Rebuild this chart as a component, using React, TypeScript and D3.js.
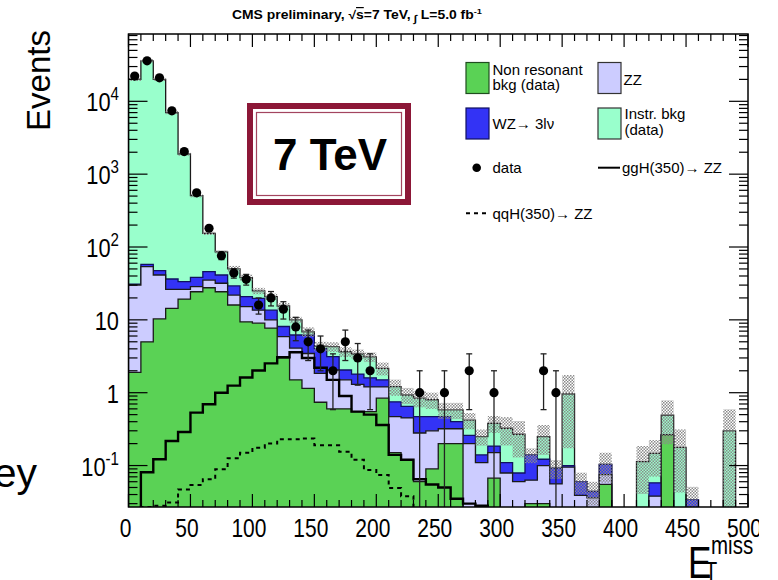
import React from "react";
import * as d3 from "d3";

// ---------- data (per 10 GeV bin, 0..500) ----------
const binLows = d3.range(0, 500, 10);

const nonResonant = [1.9, 5.0, 10.3, 14.4, 19.3, 24.3, 27.6, 24.3, 16.0, 9.4, 9.0, 7.7, 3.0, 1.5, 1.15, 0.74, 0.6, 0.6, 0.55, 0.55, 0.84, 0.15, 0.12, 0.06, 0.09, 0.2, 0.2, 0, 0, 0.067, 0, 0, 0.03, 0.03, 0, 0, 0, 0, 0.055, 0, 0, 0, 0, 0.263, 0, 0, 0, 0, 0, 0];
const zz = [28.2, 48.7, 31.0, 11.8, 6.9, 4.2, 7.6, 7.5, 5.9, 5.8, 4.6, 2.3, 2.9, 2.6, 2.3, 1.1, 1.45, 0.9, 0.75, 0.65, 0.36, 0.32, 0.33, 0.22, 0.21, 0.12, 0.12, 0.2, 0.11, 0.083, 0.079, 0.06, 0.033, 0.07, 0.056, 0.095, 0.039, 0.036, 0.02, 0, 0, 0, 0.038, 0, 0, 0, 0, 0, 0, 0];
const wz = [0.9, 4.2, 6.0, 10.2, 7.2, 9.9, 10.6, 9.5, 7.3, 5.6, 6.1, 3.6, 2.2, 2.1, 2.7, 2.2, 1.07, 0.55, 0.5, 0.4, 0.3, 0.28, 0.2, 0.19, 0.17, 0.15, 0.08, 0.06, 0.03, 0.035, 0.031, 0.019, 0.077, 0.022, 0.036, 0.005, 0.021, 0.008, 0.029, 0, 0, 0, 0.02, 0, 0, 0.034, 0, 0, 0, 0];
const instrBkg = [19970, 35942, 19953, 6964, 1857, 468, 108, 44.7, 20.8, 17.2, 5.3, 7.2, 7.4, 3.8, 0.7, 0.3, 1.16, 1.6, 1.6, 1.5, 0.66, 0.46, 0.28, 0.37, 0.33, 0.11, 0.18, 0.16, 0.11, 0.195, 0.215, 0.19, 0, 0.128, 0, 0.86, 0, 0, 0, 0, 0, 0.113, 0.089, 0.227, 0.178, 0, 0, 0, 0.3, 0];
const bkgRelUnc = [0.05, 0.05, 0.05, 0.05, 0.05, 0.05, 0.05, 0.05, 0.1, 0.1, 0.1, 0.1, 0.1, 0.1, 0.15, 0.15, 0.15, 0.15, 0.15, 0.15, 0.2, 0.25, 0.25, 0.25, 0.25, 0.25, 0.25, 0.25, 0.25, 0.26, 0.42, 0.52, 0.23, 0.44, 0.29, 0.82, 0.33, 0.36, 0.44, 0, 0, 0.64, 0.52, 0.6, 0.76, 0.5, 0, 0, 0.97, 0];
const dataCounts = [22200, 36000, 21000, 7400, 2040, 555, 181, 76, 44, 36, 16, 20, 14, 8, 5, 4, 2, 5, 3, 2, 0, 0, 0, 1, 0, 1, 0, 2, 0, 1, 0, 0, 0, 2, 1, 0, 0, 0, 0, 0, 0, 0, 0, 0, 0, 0, 0, 0, 0, 0];
const ggH350 = [0, 0.081, 0.122, 0.217, 0.289, 0.532, 0.693, 1.0, 1.25, 1.62, 2.02, 2.53, 3.06, 3.6, 3.0, 2.2, 1.5, 0.9, 0.55, 0.5, 0.36, 0.14, 0.12, 0.065, 0.055, 0.05, 0.035, 0.03, 0.028, 0, 0, 0, 0, 0, 0, 0, 0, 0, 0, 0, 0, 0, 0, 0, 0, 0, 0, 0, 0, 0];
const qqH350 = [0, 0.027, 0.028, 0.031, 0.047, 0.054, 0.065, 0.089, 0.126, 0.15, 0.176, 0.2, 0.229, 0.23, 0.236, 0.19, 0.19, 0.155, 0.12, 0.087, 0.074, 0.049, 0.038, 0, 0, 0, 0, 0, 0, 0, 0, 0, 0, 0, 0, 0, 0, 0, 0, 0, 0, 0, 0, 0, 0, 0, 0, 0, 0, 0];

const xTickLabels = ["0", "50", "100", "150", "200", "250", "300", "350", "400", "450", "500"];
const yDecades = [-1, 0, 1, 2, 3, 4];

// ---------- layout ----------
const W = 778, H = 580;
const L = 128.5, R = 748, T = 34, B = 507;
const yMin = Math.pow(10, -1.569), yMax = Math.pow(10, 4.924);

const COL_GREEN = "#5ad255";
const COL_ZZ = "#ccccff";
const COL_WZ = "#3333f5";
const COL_INSTR = "#99ffcc";
const FONT = "'Liberation Sans', Arial, Helvetica, sans-serif";

export default function App() {
  const x = d3.scaleLinear().domain([0, 500]).range([L, R]);
  const y = d3.scaleLog().domain([yMin, yMax]).range([B, T]);
  const yc = (v: number) => (v <= yMin ? B + 5 : y(v));

  const cumNonRes = nonResonant.slice();
  const cumZZ = zz.map((v, i) => cumNonRes[i] + v);
  const cumWZ = wz.map((v, i) => cumZZ[i] + v);
  const cumTot = instrBkg.map((v, i) => cumWZ[i] + v);

  const stepArea = (vals: number[]) => {
    let d = `M${x(0)},${B + 5}`;
    vals.forEach((v, i) => {
      const yy = yc(v);
      d += `L${x(binLows[i])},${yy}L${x(binLows[i] + 10)},${yy}`;
    });
    d += `L${x(500)},${B + 5}Z`;
    return d;
  };
  const stepLine = (vals: number[]) => {
    let d = "";
    vals.forEach((v, i) => {
      const yy = yc(v);
      d += `${i === 0 ? "M" : "L"}${x(binLows[i])},${yy}L${x(binLows[i] + 10)},${yy}`;
    });
    return d;
  };

  const minorY: number[] = [];
  for (let dcd = -2; dcd <= 4; dcd++) for (let m = 2; m <= 9; m++) {
    const v = m * Math.pow(10, dcd);
    if (v > yMin && v < yMax) minorY.push(v);
  }
  const xMinor = d3.range(0, 501, 10);

  const stacks = [
    { vals: cumTot, fill: COL_INSTR, stroke: "#1a1a1a" },
    { vals: cumWZ, fill: COL_WZ, stroke: "#101060" },
    { vals: cumZZ, fill: COL_ZZ, stroke: "#1a1a1a" },
    { vals: cumNonRes, fill: COL_GREEN, stroke: "#1a1a1a" },
  ];

  return (
    <svg width={W} height={H} style={{ display: "block", position: "absolute", left: 0, top: 0, background: "#fff" }} fontFamily={FONT}>
      <defs>
        <clipPath id="plotClip"><rect x={L} y={T} width={R - L} height={B - T} /></clipPath>
        <clipPath id="pageClip"><rect x={0} y={0} width={759} height={H} /></clipPath>
        <pattern id="band" width="3" height="3" patternUnits="userSpaceOnUse">
          <rect x="0" y="0" width="1.5" height="1.5" fill="#8a8a8a" />
          <rect x="1.5" y="1.5" width="1.5" height="1.5" fill="#8a8a8a" />
        </pattern>
      </defs>
      <rect x={0} y={0} width={W} height={H} fill="#fff" />

      {/* stray slide text */}
      <text x={37} y={487} fontSize={41} textAnchor="end" fill="#000">ey</text>

      {/* title */}
      <text x={232} y={19} fontSize={12} fontWeight="bold" textLength={250} lengthAdjust="spacingAndGlyphs">
        CMS preliminary, √<tspan textDecoration="overline">s</tspan>=7 TeV,<tspan fontSize={10} dy={3}> ∫</tspan><tspan dy={-3}> L=5.0 fb</tspan><tspan fontSize={8} dy={-5}>-1</tspan>
      </text>

      <g clipPath="url(#plotClip)">
        {stacks.map((s, i) => (
          <path key={i} d={stepArea(s.vals)} fill={s.fill} stroke={s.stroke} strokeWidth={1.3} strokeLinejoin="miter" />
        ))}
        {/* uncertainty band */}
        {cumTot.map((t, i) => {
          const u = bkgRelUnc[i];
          if (!(u > 0) || t <= 0) return null;
          const hi = t * (1 + u), lo = t * (1 - u);
          const y1 = yc(hi), y2 = yc(lo);
          return <rect key={i} x={x(binLows[i])} y={y1} width={x(binLows[i] + 10) - x(binLows[i])} height={Math.max(0, y2 - y1)} fill="url(#band)" />;
        })}
        {/* signals */}
        <path d={stepLine(ggH350)} fill="none" stroke="#000" strokeWidth={2.4} />
        <path d={stepLine(qqH350)} fill="none" stroke="#000" strokeWidth={2} strokeDasharray="4,4" />
        {/* data */}
        {dataCounts.map((n, i) => {
          if (n <= 0) return null;
          const cx = x(binLows[i] + 5);
          const e = Math.sqrt(n);
          const yHi = yc(n + e), yLo = yc(n - e);
          return (
            <g key={i}>
              <line x1={cx} x2={cx} y1={yHi} y2={yLo} stroke="#222" strokeWidth={1.3} />
              <line x1={cx - 3} x2={cx + 3} y1={yHi} y2={yHi} stroke="#222" strokeWidth={1.3} />
              {n - e > yMin && <line x1={cx - 3} x2={cx + 3} y1={yLo} y2={yLo} stroke="#222" strokeWidth={1.3} />}
              <circle cx={cx} cy={y(n)} r={4.6} fill="#000" />
            </g>
          );
        })}
      </g>

      {/* 7 TeV stamp */}
      <g>
        <rect x={250} y={106} width={158} height={96} fill="none" stroke="#8c1737" strokeWidth={6} />
        <rect x={256.5} y={112.5} width={145} height={83} fill="none" stroke="#8c1737" strokeWidth={1.2} opacity={0.8} />
        <text x={330} y={170} fontSize={44} fontWeight="bold" textAnchor="middle" textLength={114} lengthAdjust="spacingAndGlyphs">7 TeV</text>
      </g>

      {/* frame and ticks */}
      <rect x={L} y={T} width={R - L} height={B - T} fill="none" stroke="#000" strokeWidth={1.5} />
      {xMinor.map((v) => {
        const major = v % 50 === 0;
        const len = major ? 13 : 7;
        return (
          <g key={v}>
            <line x1={x(v)} x2={x(v)} y1={B} y2={B - len} stroke="#000" strokeWidth={1.2} />
            <line x1={x(v)} x2={x(v)} y1={T} y2={T + len} stroke="#000" strokeWidth={1.2} />
          </g>
        );
      })}
      {yDecades.map((dcd) => {
        const yy = y(Math.pow(10, dcd));
        return (
          <g key={dcd}>
            <line x1={L} x2={L + 19} y1={yy} y2={yy} stroke="#000" strokeWidth={1.2} />
            <line x1={R} x2={R - 19} y1={yy} y2={yy} stroke="#000" strokeWidth={1.2} />
          </g>
        );
      })}
      {minorY.map((v, i) => (
        <g key={i}>
          <line x1={L} x2={L + 9} y1={y(v)} y2={y(v)} stroke="#000" strokeWidth={1.2} />
          <line x1={R} x2={R - 9} y1={y(v)} y2={y(v)} stroke="#000" strokeWidth={1.2} />
        </g>
      ))}

      {/* y tick labels */}
      {yDecades.map((dcd) => {
        const yy = y(Math.pow(10, dcd));
        const main = dcd === 0 ? "1" : "10";
        const sup = dcd === 0 || dcd === 1 ? "" : String(dcd);
        return (
          <g key={dcd} transform={`translate(119,${yy + 10}) scale(0.84,1)`}>
            <text x={0} y={0} fontSize={26} textAnchor="end">
              {main}
              {sup && <tspan fontSize={18} dy={-11}>{sup}</tspan>}
            </text>
          </g>
        );
      })}

      {/* x tick labels */}
      <g clipPath="url(#pageClip)">
        {xTickLabels.map((t) => (
          <g key={t} transform={`translate(${x(+t) - (t === "0" ? 3 : 3.5)},536.5) scale(0.84,1)`}>
            <text x={0} y={0} fontSize={25} textAnchor="middle">{t}</text>
          </g>
        ))}
      </g>

      {/* axis titles */}
      <text transform="translate(50,30) rotate(-90)" fontSize={33} textAnchor="end">Events</text>
      <g transform="translate(688,578) scale(0.78,1)">
        <text x={0} y={0} fontSize={45}>E</text>
      </g>
      <g transform="translate(711,554) scale(0.82,1)">
        <text x={0} y={0} fontSize={25}>miss</text>
      </g>
      <g transform="translate(705,579.5) scale(0.8,1)">
        <text x={0} y={0} fontSize={25}>T</text>
      </g>

      {/* legend */}
      <g fontSize={15}>
        <rect x={466} y={62.5} width={23} height={31} fill={COL_GREEN} stroke="#1f4d1f" strokeWidth={1.2} />
        <text x={492.5} y={74.5}>Non resonant</text>
        <text x={492.5} y={90}>bkg (data)</text>

        <rect x={598} y={62.5} width={23} height={31} fill={COL_ZZ} stroke="#333" strokeWidth={1.2} />
        <text x={623.5} y={85}>ZZ</text>

        <rect x={466} y={108} width={23} height={31} fill={COL_WZ} stroke="#101060" strokeWidth={1.2} />
        <text x={492.5} y={128.5}>WZ→ 3lν</text>

        <rect x={598} y={108} width={23} height={31} fill={COL_INSTR} stroke="#333" strokeWidth={1.2} />
        <text x={624.5} y={118.5}>Instr. bkg</text>
        <text x={624.5} y={134.5}>(data)</text>

        <circle cx={476.7} cy={167.7} r={4.3} fill="#000" />
        <text x={492.5} y={173.3}>data</text>

        <line x1={598} x2={620} y1={167.7} y2={167.7} stroke="#000" strokeWidth={2} />
        <text x={622} y={173.3}>ggH(350)→ ZZ</text>

        <line x1={466} x2={489} y1={213.3} y2={213.3} stroke="#000" strokeWidth={2} strokeDasharray="4,4" />
        <text x={492.5} y={219}>qqH(350)→ ZZ</text>
      </g>
    </svg>
  );
}
